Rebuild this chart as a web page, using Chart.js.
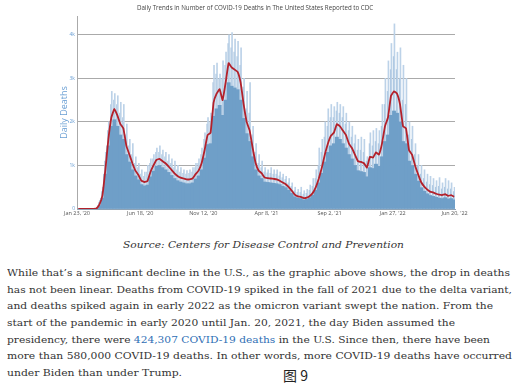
<!DOCTYPE html>
<html>
<head>
<meta charset="utf-8">
<script src="https://cdn.jsdelivr.net/npm/chart.js@4"></script>
<style>
  body { margin: 0; background: #fff; width: 521px; height: 388px; overflow: hidden; position: relative; }
  #chart { position: absolute; left: 0; top: 0; }
  .ln { position: absolute; white-space: nowrap; font-family: 'DejaVu Serif', serif; font-size: 10px; color: #333; transform-origin: left center; line-height: 12px; }
  .cap { font-style: italic; }
  .ln a { color: #2f6fb5; text-decoration: none; }
  #fig { position: absolute; left: 283px; top: 366px; font-family: 'Noto Sans CJK SC', sans-serif; font-size: 14px; color: #222; line-height: 18px; }
</style>
</head>
<body>
<canvas id="chart" width="521" height="218"></canvas>

<div class="ln cap" data-w="281" style="left:123px;top:239px">Source: Centers for Disease Control and Prevention</div>
<div class="ln" data-w="503" style="left:7px;top:267px">While that’s a significant decline in the U.S., as the graphic above shows, the drop in deaths</div>
<div class="ln" data-w="505" style="left:7px;top:284px">has not been linear. Deaths from COVID-19 spiked in the fall of 2021 due to the delta variant,</div>
<div class="ln" data-w="486" style="left:7px;top:300px">and deaths spiked again in early 2022 as the omicron variant swept the nation. From the</div>
<div class="ln" data-w="448" style="left:7px;top:317px">start of the pandemic in early 2020 until Jan. 20, 2021, the day Biden assumed the</div>
<div class="ln" data-w="483" style="left:7px;top:334px">presidency, there were <a>424,307 COVID-19 deaths</a> in the U.S. Since then, there have been</div>
<div class="ln" data-w="505" style="left:7px;top:350px">more than 580,000 COVID-19 deaths. In other words, more COVID-19 deaths have occurred</div>
<div class="ln" data-w="175" style="left:7px;top:367px">under Biden than under Trump.</div>
<div id="fig">图 9</div>

<script>
// weekly readings, first week starts Jan 23 2020 (x = days since then)
const tickDays = [0, 147, 294, 441, 588, 735, 879];
const tickLabels = ["Jan 23, '20", "Jun 18, '20", "Nov 12, '20", "Apr 8, '21", "Sep 2, '21", "Jan 27, '22", "Jun 20, '22"];
const yTicks = [0, 1000, 2000, 3000, 4000];

// 7-day average (red line)
const weekAvg = [0, 0, 0, 0, 0, 0, 10, 100, 300, 900, 1600, 2100, 2300, 2150, 1950, 1850, 1450, 1250, 1050, 880,
  780, 650, 620, 640, 850, 1000, 1130, 1150, 1100, 1050, 980, 900, 820, 760, 720, 700, 680, 680, 700, 800,
  880, 1050, 1350, 1700, 1750, 2450, 2650, 2750, 2500, 2900, 3350, 3250, 3200, 3150, 2900, 2400, 2000, 1800, 1400, 1050,
  880, 820, 720, 710, 700, 690, 680, 650, 610, 570, 500, 420, 330, 290, 280, 250, 260, 300, 370, 500,
  700, 950, 1250, 1500, 1680, 1750, 1950, 1900, 1800, 1700, 1500, 1400, 1250, 1100, 1080, 1050, 950, 1200, 1180, 1300,
  1250, 1500, 1900, 2100, 2600, 2700, 2650, 2400, 1900, 1850, 1350, 1250, 1000, 800, 620, 520, 450, 400, 380, 350,
  330, 320, 340, 300, 320, 280];

// typical daily count (dark bars)
const weekBody = [0, 0, 0, 0, 0, 0, 5, 80, 250, 800, 1450, 1900, 2050, 1900, 1700, 1600, 1250, 1080, 900, 760,
  670, 560, 530, 550, 740, 870, 980, 1000, 950, 900, 840, 770, 700, 650, 620, 600, 580, 580, 600, 690,
  760, 900, 1170, 1480, 1500, 2130, 2300, 2380, 2150, 2500, 2900, 2820, 2780, 2740, 2500, 2080, 1730, 1550, 1200, 900,
  760, 700, 620, 610, 600, 590, 580, 560, 520, 490, 430, 360, 280, 250, 240, 210, 220, 260, 320, 430,
  600, 820, 1080, 1300, 1450, 1500, 1650, 1600, 1500, 1400, 1250, 1150, 1000, 880, 860, 840, 740, 950, 930, 1030,
  980, 1200, 1550, 1700, 2150, 2250, 2200, 2000, 1550, 1500, 1100, 1000, 800, 640, 490, 410, 350, 310, 290, 270,
  250, 240, 260, 230, 240, 210];

// highest reported day of the week (light spikes)
const weekHigh = [0, 0, 0, 0, 0, 0, 20, 200, 500, 1300, 2000, 2700, 2650, 2600, 2450, 2400, 1950, 1600, 1500, 1200,
  1050, 900, 850, 1000, 1150, 1250, 1400, 1450, 1350, 1300, 1250, 1150, 1100, 1000, 950, 900, 880, 900, 950, 1050,
  1150, 1400, 1750, 2100, 2200, 3300, 3350, 3100, 3400, 3600, 4000, 4050, 3900, 3850, 3700, 3000, 2700, 2900, 1900, 1500,
  1250, 1100, 950, 900, 950, 900, 900, 850, 800, 750, 700, 600, 500, 450, 500, 420, 450, 550, 700, 900,
  1400, 1600, 2000, 2300, 2400, 2350, 2450, 2400, 2350, 2200, 2000, 1900, 1700, 1600, 1650, 1600, 1200, 1750, 1800, 1850,
  1800, 2400, 3000, 3400, 3800, 4250, 3600, 3700, 3300, 3000, 2000, 1900, 1500, 1250, 1000, 900, 800, 750, 700, 650,
  720, 600, 700, 650, 600, 500];

// second highest day of the week
const weekSecond = [0, 0, 0, 0, 0, 0, 15, 150, 400, 1100, 1800, 2400, 2500, 2400, 2200, 2100, 1700, 1450, 1250, 1050,
  950, 800, 750, 850, 1050, 1150, 1300, 1300, 1250, 1200, 1100, 1050, 950, 900, 850, 820, 800, 820, 850, 950,
  1050, 1250, 1600, 1950, 2000, 2900, 3100, 3000, 3000, 3300, 3800, 3700, 3600, 3500, 3300, 2800, 2300, 2200, 1700, 1300,
  1050, 950, 850, 830, 820, 800, 800, 760, 720, 680, 600, 520, 420, 380, 380, 340, 360, 430, 520, 700,
  1000, 1300, 1650, 1900, 2100, 2100, 2250, 2200, 2100, 1950, 1800, 1650, 1500, 1350, 1350, 1300, 1100, 1500, 1450, 1550,
  1500, 1900, 2400, 2700, 3200, 3500, 3200, 3000, 2500, 2400, 1700, 1600, 1250, 1000, 800, 700, 620, 560, 540, 500,
  520, 460, 500, 460, 460, 400];

const toPoints = (arr, d) => arr.map((v, i) => ({ x: i * 7 + d, y: v }));

// fit text lines to the reference widths
document.querySelectorAll('.ln').forEach(el => {
  const r = +el.dataset.w / el.getBoundingClientRect().width;
  el.style.transform = 'scaleX(' + r + ')';
});

const ctx = document.getElementById('chart').getContext('2d');
new Chart(ctx, {
  type: 'bar',
  data: {
    datasets: [
      {
        type: 'line',
        data: toPoints(weekAvg, 3),
        borderColor: '#b3212b',
        borderWidth: 1.8,
        pointRadius: 0,
        tension: 0.1,
        order: 0
      },
      {
        data: toPoints(weekBody, 3),
        backgroundColor: '#6f9fc8',
        barThickness: 3.2,
        grouped: false,
        order: 1
      },
      {
        data: toPoints(weekHigh, 4),
        backgroundColor: '#bcd2e8',
        barThickness: 1,
        grouped: false,
        order: 2
      },
      {
        data: toPoints(weekSecond, 2),
        backgroundColor: '#a8c4df',
        barThickness: 0.8,
        grouped: false,
        order: 3
      }
    ]
  },
  options: {
    responsive: false,
    animation: false,
    layout: { padding: { left: 55, right: 66, top: 0, bottom: 0 } },
    plugins: {
      legend: { display: false },
      tooltip: { enabled: false },
      title: {
        display: true,
        text: 'Daily Trends in Number of COVID-19 Deaths in The United States Reported to CDC',
        color: '#444',
        font: { family: 'Open Sans', size: 6.2, weight: 'normal' },
        padding: { top: 5, bottom: 3.6 }
      }
    },
    scales: {
      x: {
        type: 'linear',
        min: 0,
        max: 880,
        offset: false,
        grid: { display: false, drawTicks: false },
        border: { color: '#8fa3b5', width: 1 },
        afterBuildTicks: s => { s.ticks = tickDays.map(v => ({ value: v })); },
        afterFit: s => { s.height = 9; },
        ticks: {
          padding: 1,
          autoSkip: false,
          maxRotation: 0,
          color: '#555',
          font: { family: 'Open Sans', size: 5.5 },
          callback: v => tickLabels[tickDays.indexOf(v)]
        }
      },
      y: {
        min: 0,
        max: 4430,
        grid: { color: '#aaa', lineWidth: 1, drawTicks: false },
        border: { color: '#aaa', width: 1 },
        afterBuildTicks: s => { s.ticks = yTicks.map(v => ({ value: v })); },
        afterFit: s => { s.width = 22; },
        ticks: {
          padding: 2,
          color: '#6a9fd4',
          font: { family: 'Open Sans', size: 5 },
          callback: v => v === 0 ? '0' : (v / 1000) + 'k'
        },
        title: {
          display: true,
          text: 'Daily Deaths',
          color: '#6a9fd4',
          font: { family: 'Open Sans', size: 9 },
          padding: { top: 4, bottom: 0 }
        }
      }
    }
  }
});
</script>
</body>
</html>
